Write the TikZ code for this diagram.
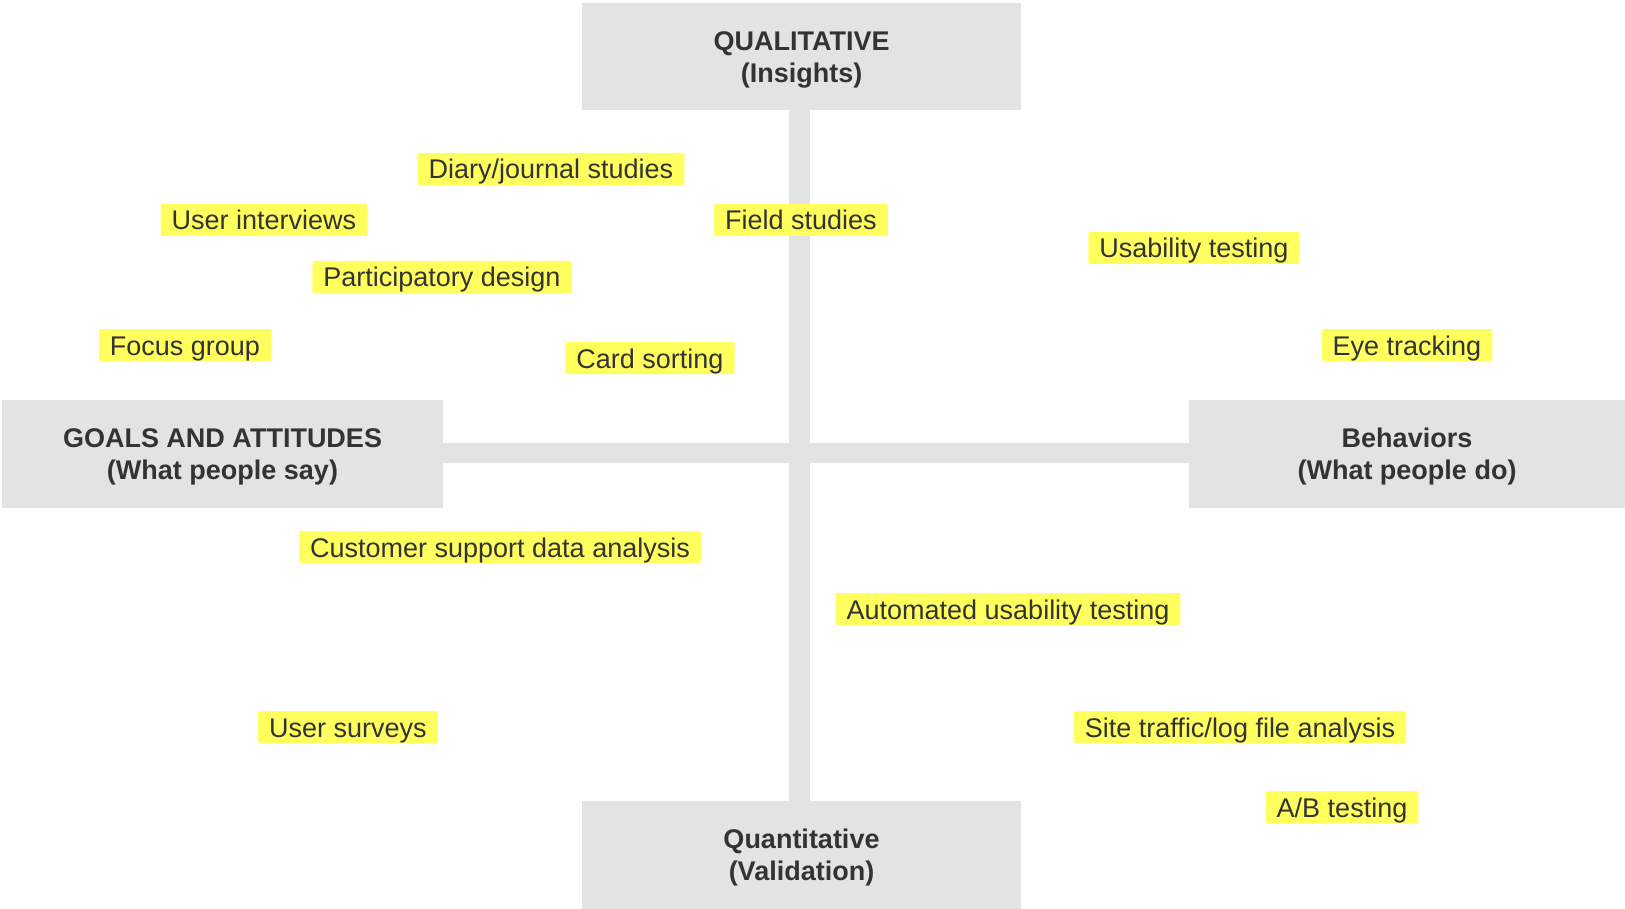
\documentclass[tikz,border=0pt]{standalone}
\usepackage{fontspec}
\setmainfont{Liberation Sans}
\definecolor{boxgray}{HTML}{E3E3E3}
\definecolor{labyellow}{HTML}{FFFF5E}
\definecolor{txt}{HTML}{333333}
\begin{document}
\begin{tikzpicture}[x=1pt,y=-1pt,
  axisbox/.style={fill=boxgray, draw=none, inner sep=0pt},
  axistext/.style={inner sep=0pt, align=center, text=txt,
    font=\fontsize{27}{32}\selectfont\bfseries},
  bar/.style={draw=boxgray},
  tag/.style={fill=labyellow, draw=none, rounded corners=2pt, inner xsep=11pt,
    inner ysep=0pt, minimum height=32pt, text=txt,
    text height=22.5pt, text depth=2.5pt,
    font=\fontsize{27}{32}\selectfont}]
\useasboundingbox (0,0) rectangle (1625,909);
% axis boxes
\node[axisbox, minimum width=439pt, minimum height=107pt] (top) at (801.5,56.5) {};
\node[axisbox, minimum width=439pt, minimum height=108pt] (bottom) at (801.5,855) {};
\node[axisbox, minimum width=441pt, minimum height=108pt] (left) at (222.5,454) {};
\node[axisbox, minimum width=436pt, minimum height=108pt] (right) at (1407,454) {};
\node[axistext] (toptext) at ([yshift=-3pt]top.center) {QUALITATIVE\\(Insights)};
\node[axistext] (bottomtext) at ([yshift=-3pt]bottom.center) {Quantitative\\(Validation)};
\node[axistext] (lefttext) at ([yshift=-3pt]left.center) {GOALS AND ATTITUDES\\(What people say)};
\node[axistext] (righttext) at ([yshift=-3pt]right.center) {Behaviors\\(What people do)};
% axes
\draw[bar, line width=21pt] ([xshift=-2pt]top.south) -- ([xshift=-2pt]bottom.north);
\draw[bar, line width=20pt] ([yshift=1pt]left.east) -- ([yshift=1pt]right.west);
% method labels
\node[tag] (diary) at (551,169) {Diary/journal studies};
\node[tag] (interviews) at (264,220) {User interviews};
\node[tag] (field) at (801,220) {Field studies};
\node[tag] (participatory) at (442,277) {Participatory design};
\node[tag] (usability) at (1194,248) {Usability testing};
\node[tag] (focus) at (185,345) {Focus group};
\node[tag] (card) at (650,358) {Card sorting};
\node[tag] (eye) at (1407,345) {Eye tracking};
\node[tag] (support) at (500,547) {Customer support data analysis};
\node[tag] (automated) at (1008,609) {Automated usability testing};
\node[tag] (surveys) at (348,727) {User surveys};
\node[tag] (traffic) at (1240,727) {Site traffic/log file analysis};
\node[tag] (ab) at (1342,807) {A/B testing};
\end{tikzpicture}
\end{document}
